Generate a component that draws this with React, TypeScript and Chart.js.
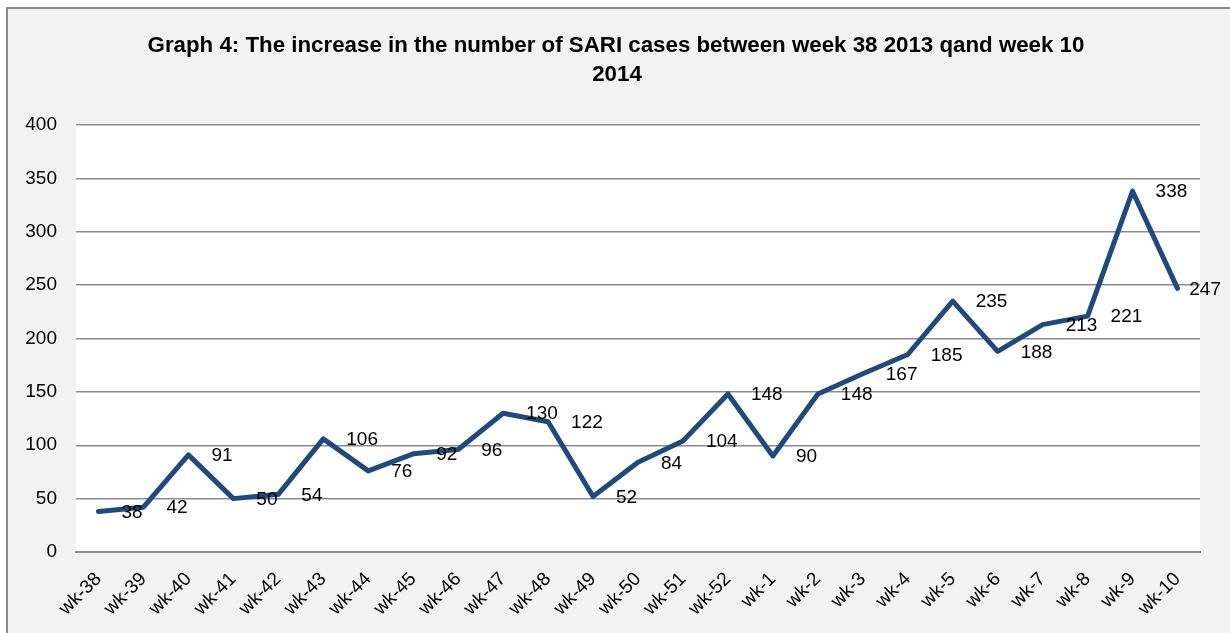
import React, { useEffect, useRef } from "react";
import { Chart, registerables } from "chart.js";

Chart.register(...registerables);

const categories = [
  "wk-38", "wk-39", "wk-40", "wk-41", "wk-42", "wk-43", "wk-44", "wk-45", "wk-46",
  "wk-47", "wk-48", "wk-49", "wk-50", "wk-51", "wk-52", "wk-1", "wk-2", "wk-3",
  "wk-4", "wk-5", "wk-6", "wk-7", "wk-8", "wk-9", "wk-10",
];
const sariCases = [
  38, 42, 91, 50, 54, 106, 76, 92, 96, 130, 122, 52, 84, 104, 148, 90, 148, 167,
  185, 235, 188, 213, 221, 338, 247,
];
const titleLines = [
  "Graph 4: The increase in the number of SARI cases between week 38 2013 qand week 10",
  "2014",
];
const yMin = 0;
const yMax = 400;
const yStep = 50;

const FONT = "'Liberation Sans', Arial, sans-serif";

export default function App() {
  const canvasRef = useRef<HTMLCanvasElement | null>(null);

  useEffect(() => {
    const canvas = canvasRef.current;
    if (!canvas) return;
    document.body.style.overflow = "hidden";

    const bgPlugin = {
      id: "plotBg",
      beforeDraw(chart: any) {
        const { ctx, chartArea } = chart;
        ctx.save();
        ctx.fillStyle = "#ffffff";
        ctx.fillRect(chartArea.left, chartArea.top, chartArea.right - chartArea.left, chartArea.bottom - chartArea.top);
        ctx.restore();
      },
    };

    const titlePlugin = {
      id: "titleLines",
      afterDraw(chart: any) {
        const { ctx, width } = chart;
        ctx.save();
        ctx.fillStyle = "#000";
        ctx.font = `bold 22.3px ${FONT}`;
        ctx.textAlign = "center";
        ctx.textBaseline = "middle";
        ctx.fillText(titleLines[0], width / 2 + 1, 46);
        ctx.fillText(titleLines[1], width / 2 + 2, 75);
        ctx.restore();
      },
    };

    const labelPlugin = {
      id: "valueLabels",
      afterDatasetsDraw(chart: any) {
        const { ctx, width } = chart;
        const meta = chart.getDatasetMeta(0);
        ctx.save();
        ctx.fillStyle = "#000";
        ctx.font = `19px ${FONT}`;
        ctx.textAlign = "left";
        ctx.textBaseline = "middle";
        meta.data.forEach((pt: any, i: number) => {
          const txt = String(sariCases[i]);
          const w = ctx.measureText(txt).width;
          const x = Math.min(pt.x + 23, width - 9 - w);
          ctx.fillText(txt, x, pt.y + 1);
        });
        ctx.restore();
      },
    };

    const chart = new Chart(canvas, {
      type: "line",
      data: {
        labels: categories,
        datasets: [
          {
            data: sariCases,
            borderColor: "#1F4A7E",
            borderWidth: 5,
            pointRadius: 0,
            tension: 0,
            borderJoinStyle: "round",
            borderCapStyle: "round",
            fill: false,
          },
        ],
      },
      options: {
        responsive: false,
        animation: false,
        devicePixelRatio: 1,
        layout: { padding: { top: 125, right: 30, left: 0, bottom: 0 } },
        plugins: {
          legend: { display: false },
          title: { display: false },
          tooltip: { enabled: false },
        },
        scales: {
          x: {
            offset: true,
            grid: { display: false, drawTicks: false },
            border: { display: true, color: "#8c8c8c", width: 2 },
            ticks: {
              color: "#000",
              font: { family: FONT, size: 19 },
              maxRotation: 45,
              minRotation: 45,
              padding: 16,
              autoSkip: false,
            },
            afterFit(scale: any) {
              scale.height = 81;
            },
          },
          y: {
            min: yMin,
            max: yMax,
            grid: { color: "#8c8c8c", lineWidth: 1.5, drawTicks: false },
            border: { display: false },
            ticks: {
              stepSize: yStep,
              color: "#000",
              font: { family: FONT, size: 19 },
              padding: 19,
            },
            afterFit(scale: any) {
              scale.width = 76;
            },
          },
        },
      },
      plugins: [bgPlugin, labelPlugin, titlePlugin],
    } as any);

    return () => chart.destroy();
  }, []);

  return (
    <div>
      <div
        style={{
          position: "absolute",
          left: 6,
          top: 7,
          width: 1222,
          height: 624,
          borderLeft: "2px solid #8a8a8a",
          borderTop: "2px solid #8a8a8a",
          background: "#f2f2f2",
          boxSizing: "content-box",
        }}
      />
      <canvas
        ref={canvasRef}
        width={1230}
        height={633}
        style={{ position: "absolute", left: 0, top: 0, width: 1230, height: 633 }}
      />
    </div>
  );
}
